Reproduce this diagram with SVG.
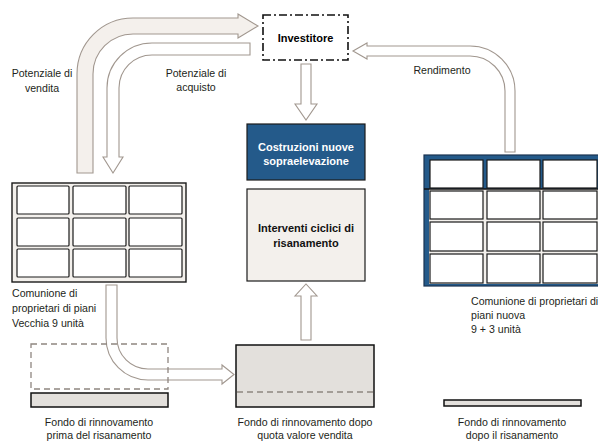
<svg xmlns="http://www.w3.org/2000/svg" width="598" height="441" viewBox="0 0 598 441">
<style>
  text { font-family: "Liberation Sans", Arial, sans-serif; }
  .lbl { font-size: 10.6px; fill: #231f20; }
  .mid { text-anchor: middle; }
  .bold { font-size: 11px; font-weight: bold; text-anchor: middle; }
  .arrow { stroke: #a1978f; stroke-width: 1.1; fill: #ffffff; stroke-linejoin: miter; }
  .arrow-big { stroke: #a1978f; stroke-width: 1.1; fill: #f4f0ec; }
  .cell { fill: #ffffff; stroke: #1a1a1a; stroke-width: 1.2; }
  .fund { fill: #e3e0dc; stroke: #111111; stroke-width: 1.5; }
  .dash { fill: none; stroke: #8f8680; stroke-width: 1.3; stroke-dasharray: 6 4; }
</style>
<rect width="598" height="441" fill="#ffffff"/>

<g id="connectors">
  <!-- Potenziale di vendita -->
  <path class="arrow-big" d="M77,173 L77,74 A56,56 0 0 1 133,18 L238,18 L238,14 L258,26 L238,38 L238,34 L133,34 A40,40 0 0 0 93,74 L93,173 Z"/>
  <!-- Potenziale di acquisto -->
  <path class="arrow" d="M250,43 L152,43 A45,45 0 0 0 107,88 L107,157 L103,157 L113,173 L123,157 L119,157 L119,88 A33,33 0 0 1 152,55 L250,55 Z"/>
  <!-- Rendimento -->
  <path class="arrow" d="M353,51 L367,43 L367,46 L470,46 A45,45 0 0 1 515,91 L515,152 L505,152 L505,91 A35,35 0 0 0 470,56 L367,56 L367,59 Z"/>
  <!-- Investitore down -->
  <path class="arrow" d="M301,64 L311,64 L311,104 L317,104 L306,120 L295,104 L301,104 Z"/>
  <!-- Fondo up to Interventi -->
  <path class="arrow" d="M301,340 L301,296 L295,296 L306,284 L317,296 L311,296 L311,340 Z"/>
  <!-- Vecchia down to fondo -->
  <path class="arrow" d="M106,285 L106,338 A42,42 0 0 0 148,380 L222,380 L222,384 L234,374.5 L222,365 L222,369 L148,369 A31,31 0 0 1 117,338 L117,285 Z"/>
  <text class="lbl mid" x="42" y="77">Potenziale di</text>
  <text class="lbl mid" x="42" y="92">vendita</text>
  <text class="lbl mid" x="196" y="77">Potenziale di</text>
  <text class="lbl mid" x="196" y="91">acquisto</text>
  <text class="lbl mid" x="442" y="74">Rendimento</text>
</g>

<g id="node-investitore">
  <rect x="263" y="15" width="85" height="45" fill="#ffffff" stroke="#111111" stroke-width="1.6" stroke-dasharray="8 3 2 3"/>
  <text class="bold" x="305.5" y="42">Investitore</text>
</g>

<g id="node-costruzioni">
  <rect x="247" y="124" width="118" height="56" fill="#245a8a" stroke="#1b1b1b" stroke-width="1.2"/>
  <text class="bold" x="306" y="151" style="fill:#ffffff">Costruzioni nuove</text>
  <text class="bold" x="306" y="165" style="fill:#ffffff">sopraelevazione</text>
</g>

<g id="node-interventi">
  <rect x="247" y="189" width="118" height="92" fill="#f3f0ec" stroke="#1b1b1b" stroke-width="1.2"/>
  <text class="bold" x="306" y="232" style="fill:#111111">Interventi ciclici di</text>
  <text class="bold" x="306" y="247" style="fill:#111111">risanamento</text>
</g>

<g id="node-vecchia">
  <rect x="12" y="183" width="174" height="99" fill="#f3f0ec" stroke="#1a1a1a" stroke-width="1.4"/>
  <rect class="cell" x="17" y="186" width="52" height="28" rx="1"/>
  <rect class="cell" x="73" y="186" width="53" height="28" rx="1"/>
  <rect class="cell" x="129" y="186" width="53" height="28" rx="1"/>
  <rect class="cell" x="17" y="218" width="52" height="28" rx="1"/>
  <rect class="cell" x="73" y="218" width="53" height="28" rx="1"/>
  <rect class="cell" x="129" y="218" width="53" height="28" rx="1"/>
  <rect class="cell" x="17" y="249" width="52" height="28" rx="1"/>
  <rect class="cell" x="73" y="249" width="53" height="28" rx="1"/>
  <rect class="cell" x="129" y="249" width="53" height="28" rx="1"/>
  <text class="lbl" x="12" y="297">Comunione di</text>
  <text class="lbl" x="12" y="312">proprietari di piani</text>
  <text class="lbl" x="12" y="327">Vecchia 9 unità</text>
</g>

<g id="node-nuova">
  <rect x="424" y="155" width="180" height="131" fill="#245a8a" stroke="#1a3350" stroke-width="1.2"/>
  <rect x="429" y="189" width="175" height="95" fill="#f3f0ec"/>
  <line x1="424" y1="189" x2="598" y2="189" stroke="#111111" stroke-width="1.5"/>
  <rect class="cell" x="430" y="160" width="53" height="28"/>
  <rect class="cell" x="487" y="160" width="53" height="28"/>
  <rect class="cell" x="543" y="160" width="54" height="28"/>
  <rect class="cell" x="430" y="191" width="53" height="28"/>
  <rect class="cell" x="487" y="191" width="53" height="28"/>
  <rect class="cell" x="543" y="191" width="54" height="28"/>
  <rect class="cell" x="430" y="222" width="53" height="29"/>
  <rect class="cell" x="487" y="222" width="53" height="29"/>
  <rect class="cell" x="543" y="222" width="54" height="29"/>
  <rect class="cell" x="430" y="254" width="53" height="29"/>
  <rect class="cell" x="487" y="254" width="53" height="29"/>
  <rect class="cell" x="543" y="254" width="54" height="29"/>
  <text class="lbl" x="471" y="305">Comunione di proprietari di</text>
  <text class="lbl" x="471" y="319">piani nuova</text>
  <text class="lbl" x="471" y="333">9 + 3 unità</text>
</g>

<g id="node-fondo-prima">
  <rect class="dash" x="31" y="344" width="137" height="45"/>
  <rect class="fund" x="31" y="393" width="137" height="14"/>
  <text class="lbl mid" x="99" y="426">Fondo di rinnovamento</text>
  <text class="lbl mid" x="99" y="438.5">prima del risanamento</text>
</g>

<g id="node-fondo-dopo-vendita">
  <rect class="fund" x="236" y="345" width="138" height="62"/>
  <line x1="237" y1="392" x2="373" y2="392" stroke="#8f8680" stroke-width="1.3" stroke-dasharray="6 4"/>
  <text class="lbl mid" x="305" y="426">Fondo di rinnovamento dopo</text>
  <text class="lbl mid" x="305" y="438.5">quota valore vendita</text>
</g>

<g id="node-fondo-dopo-risanamento">
  <rect class="fund" x="444" y="400" width="137" height="6"/>
  <text class="lbl mid" x="512" y="426">Fondo di rinnovamento</text>
  <text class="lbl mid" x="512" y="438.5">dopo il risanamento</text>
</g>
</svg>
